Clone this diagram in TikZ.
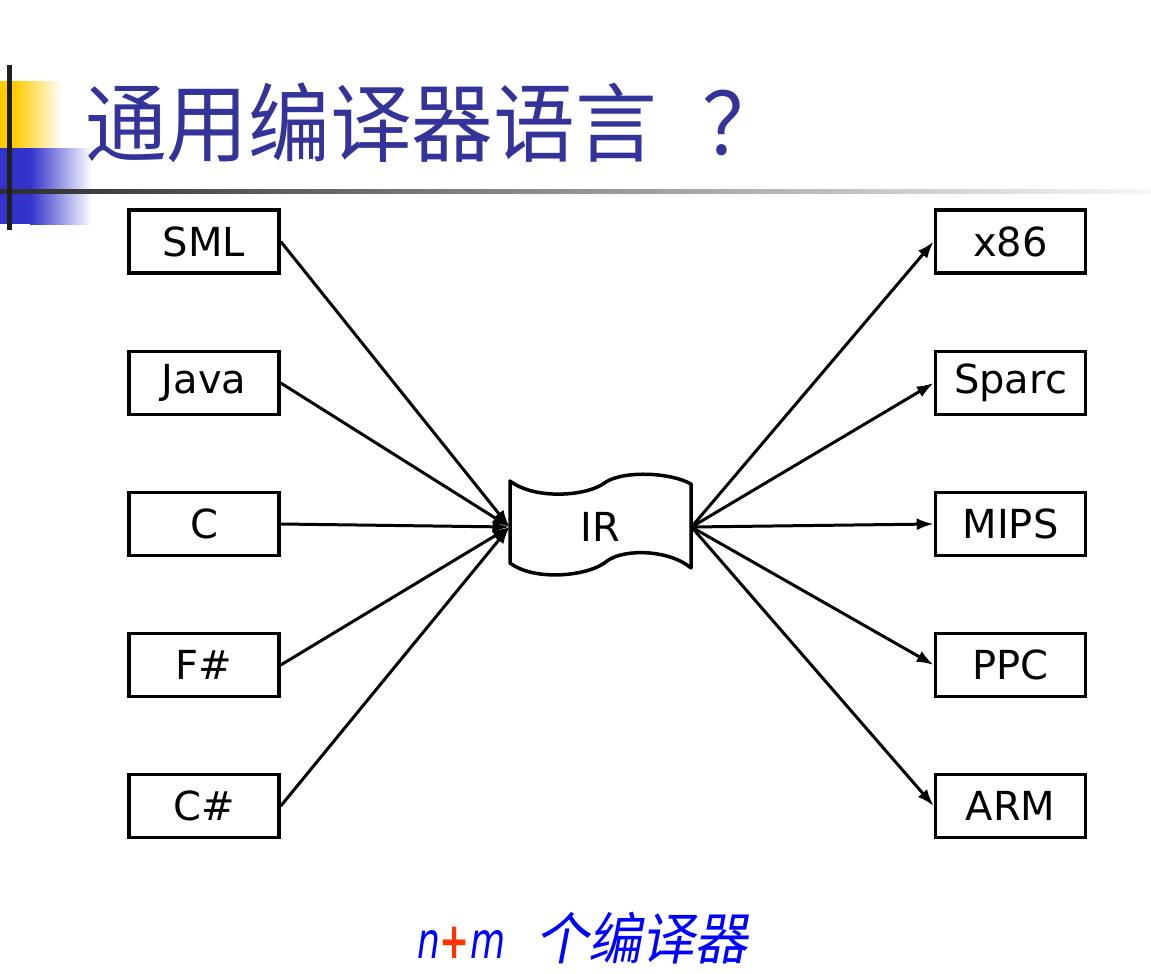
\documentclass[tikz,border=0pt]{standalone}
\usepackage{fontspec}
\usetikzlibrary{arrows.meta}
\newfontfamily\cjk{Noto Sans CJK SC}
\newfontfamily\cjksl[FakeSlant=0.2]{Noto Sans CJK SC}
\newfontfamily\dvs{DejaVu Sans}
\definecolor{titleblue}{HTML}{333399}
\definecolor{barblue}{HTML}{3333CC}
\definecolor{baryellow}{HTML}{FFCC00}
\definecolor{plusred}{HTML}{FF3300}
\tikzset{
  langbox/.style={draw=black, line width=3.5pt, minimum width=150pt, minimum height=63pt, inner sep=0pt, font=\dvs\fontsize{40}{44}\selectfont},
  arr/.style={line width=3pt, -{Latex[length=17pt,width=12pt]}},
}
\begin{document}
\begin{tikzpicture}[x=1pt,y=-1pt]
\useasboundingbox (0,0) rectangle (1151,974);
% decoration
\fill[baryellow] (0,81) rectangle (14,148);
\shade[left color=baryellow, right color=white] (14,81) rectangle (62,148);
\fill[barblue] (0,148) rectangle (30,224);
\shade[left color=barblue, right color=white] (30,148) rectangle (92,224);
\shade[left color=black!82, right color=black!3] (0,189) rectangle (1151,193);
\fill[black!88] (7,65) rectangle (12,230);
% title
\node[anchor=base west, inner sep=0pt, text=titleblue, xscale=0.95, font=\cjk\fontsize{86}{90}\selectfont] (title) at (85,155) {通用编译器语言\hspace{48pt}？};
% left boxes
\node[langbox] (sml) at (204,241.5) {SML};
\node[langbox] (java) at (204,383) {Java};
\node[langbox] (c) at (204,524) {C};
\node[langbox] (fs) at (204,665) {F\#};
\node[langbox] (cs) at (204,806) {C\#};
% right boxes
\node[langbox] (x86) at (1010.5,241.5) {x86};
\node[langbox] (sparc) at (1010.5,383) {Sparc};
\node[langbox] (mips) at (1010.5,524) {MIPS};
\node[langbox] (ppc) at (1010.5,665) {PPC};
\node[langbox] (arm) at (1010.5,806) {ARM};
% IR
\draw[line width=3.5pt, line join=round] (510,481) .. controls (535,500) and (585,496) .. (603,484) .. controls (620,470) and (670,472) .. (691,484) -- (691,568) .. controls (670,550) and (625,548) .. (607,561) .. controls (590,576) and (535,582) .. (510,563) -- cycle;
\node[minimum width=182pt, minimum height=80pt, inner sep=0pt, outer sep=0pt, font=\dvs\fontsize{40}{44}\selectfont] (ir) at (600.5,527) {IR};
% arrows
\foreach \s in {sml,java,c,fs,cs} \draw[arr] (\s.east) -- (ir.west);
\foreach \t in {x86,sparc,mips,ppc,arm} \draw[arr] (ir.east) -- (\t.west);
% bottom
\node[anchor=base west, inner sep=0pt, xscale=0.72, font=\dvs\itshape\fontsize{50}{54}\selectfont] (nm) at (417,958) {\textcolor{blue}{n}\textcolor{plusred}{\bfseries +}\textcolor{blue}{m}};
\node[anchor=base west, inner sep=0pt, text=blue, xscale=0.95, font=\cjksl\fontsize{56}{60}\selectfont] (cnt) at (535,959) {个编译器};
\end{tikzpicture}
\end{document}
